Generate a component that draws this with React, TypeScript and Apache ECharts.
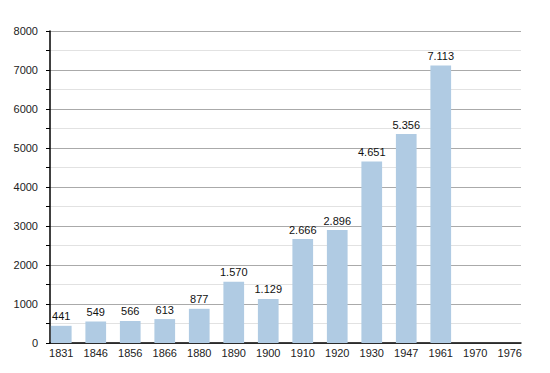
import React, { useEffect, useRef } from "react";
import * as echarts from "echarts";

const years = ["1831", "1846", "1856", "1866", "1880", "1890", "1900", "1910", "1920", "1930", "1947", "1961", "1970", "1976"];
const population: (number | null)[] = [441, 549, 566, 613, 877, 1570, 1129, 2666, 2896, 4651, 5356, 7113, null, null];

const fmt = (v: number) => String(v).replace(/\B(?=(\d{3})+(?!\d))/g, ".");

export default function App() {
  const ref = useRef<HTMLDivElement>(null);
  useEffect(() => {
    if (!ref.current) return;
    const chart = echarts.init(ref.current, undefined, { renderer: "svg" });
    chart.setOption({
      animation: false,
      textStyle: { fontFamily: "Liberation Sans, Arial, sans-serif" },
      grid: [
        { left: 42, right: 21, top: 23, bottom: 22 },
        { left: 36, right: 15, top: 23, bottom: 22 },
      ],
      xAxis: [
        {
          gridIndex: 0,
          type: "value",
          min: 0,
          max: 1,
          axisLine: { show: true, lineStyle: { color: "#000", width: 1.5 } },
          axisTick: { show: false },
          axisLabel: { show: false },
          splitLine: { show: false },
        },
        {
          gridIndex: 1,
          type: "category",
          data: years,
          axisLine: { show: false },
          axisTick: { show: false },
          axisLabel: { color: "#222", fontSize: 11, margin: 4 },
        },
      ],
      yAxis: [
        {
          gridIndex: 0,
          type: "value",
          min: 0,
          max: 8000,
          interval: 1000,
          axisLine: { show: true, lineStyle: { color: "#000", width: 1.5 } },
          axisTick: { show: true, length: 4, lineStyle: { color: "#000" } },
          minorTick: { show: true, splitNumber: 2, length: 4, lineStyle: { color: "#000" } },
          splitLine: { lineStyle: { color: "#aaa" } },
          minorSplitLine: { show: true, lineStyle: { color: "#e2e2e2" } },
          axisLabel: { color: "#222", fontSize: 11, margin: 12, formatter: (v: number) => String(v) },
        },
        {
          gridIndex: 1,
          type: "value",
          min: 0,
          max: 8000,
          interval: 1000,
          show: false,
          splitLine: { show: false },
        },
      ],
      series: [
        {
          type: "bar",
          xAxisIndex: 1,
          yAxisIndex: 1,
          data: population,
          barWidth: "60%",
          itemStyle: { color: "#b0cbe3" },
          label: {
            show: true,
            position: "top",
            color: "#111",
            fontSize: 11,
            distance: 4,
            formatter: (p: any) => fmt(p.value),
          },
        },
      ],
    });
    return () => chart.dispose();
  }, []);
  return <div ref={ref} style={{ width: 534, height: 357 }} />;
}
